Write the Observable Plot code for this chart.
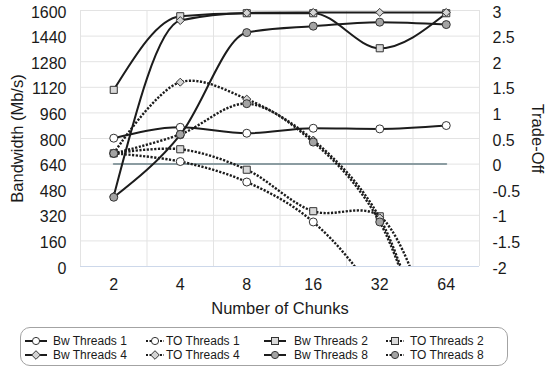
<!DOCTYPE html>
<html><head><meta charset="utf-8">
<script src="https://cdn.jsdelivr.net/npm/d3@7"></script>
<script src="https://cdn.jsdelivr.net/npm/@observablehq/plot@0.6"></script>
<style>
body{margin:0;background:#fff;font-family:"Liberation Sans",Arial,sans-serif;}
#wrap{position:relative;width:550px;height:372px;overflow:hidden;}
#legend{position:absolute;left:20px;top:327px;width:486px;height:37px;border:1px solid #a3a3a3;border-radius:10px;}
.item{position:absolute;font-size:12px;color:#1a1a1a;line-height:14px;white-space:nowrap;}
.item svg{position:absolute;top:0;}
</style></head><body><div id="wrap"></div>
<script>
// ---- data ----
const chunks = [2, 4, 8, 16, 32, 64];
const bwThreads1 = [802, 870, 833, 864, 860, 881];
const bwThreads2 = [1104, 1564, 1583, 1583, 1364, 1583];
const bwThreads4 = [440, 1537, 1585, 1588, 1588, 1588];
const bwThreads8 = [433, 823, 1462, 1502, 1527, 1512];
const toThreads1 = [0.21, 0.05, -0.35, -1.13, -2.7, -5.5];
const toThreads2 = [0.21, 0.29, -0.11, -0.92, -1.02, -4.2];
const toThreads4 = [0.21, 1.6, 1.27, 0.47, -1.05, -5];
const toThreads8 = [0.21, 0.58, 1.18, 0.43, -1.13, -5];
const zeroLine = [0, 0, 0, 0, 0, 0];
const bwTicks = [0, 160, 320, 480, 640, 800, 960, 1120, 1280, 1440, 1600];
const toTicks = [-2, -1.5, -1, -0.5, 0, 0.5, 1, 1.5, 2, 2.5, 3];
const seriesNames = ["Bw Threads 1", "TO Threads 1", "Bw Threads 2", "TO Threads 2",
                     "Bw Threads 4", "TO Threads 4", "Bw Threads 8", "TO Threads 8"];
const seriesValues = [bwThreads1, toThreads1, bwThreads2, toThreads2,
                      bwThreads4, toThreads4, bwThreads8, toThreads8];

// ---- styles ----
const seriesAxis = ["bw", "to", "bw", "to", "bw", "to", "bw", "to"];
const seriesSymbol = ["circle", "circle", "square", "square", "diamond2", "diamond2", "circle", "circle"];
const seriesFill = ["#ffffff", "#ffffff", "#d9d9d9", "#d9d9d9", "#d4d4d4", "#d4d4d4", "#a3a3a3", "#a3a3a3"];
const seriesR = [4, 4, 4, 4, 3.6, 3.6, 4, 4];
const ink = "#1c1c1c";

const bwMax = bwTicks[bwTicks.length - 1];
const toMin = toTicks[0], toMax = toTicks[toTicks.length - 1];
const toToBw = v => (v - toMin) / (toMax - toMin) * bwMax;
const bwToTo = d => Math.round(((d / bwMax) * (toMax - toMin) + toMin) * 10) / 10;

const rows = seriesValues.flatMap((vals, s) => vals.map((v, i) => ({
  s, chunk: chunks[i], value: v,
  y: seriesAxis[s] === "to" ? toToBw(v) : v,
  inRange: seriesAxis[s] === "to" ? v >= toMin : true
})));

const bounds = [chunks[0] / Math.SQRT2, ...chunks.map(c => c * Math.SQRT2)];
const grid = "#e3e3e3";

const marks = [
  Plot.ruleY(bwTicks, {stroke: grid, strokeWidth: 1}),
  Plot.ruleX(bounds, {stroke: grid, strokeWidth: 1}),
  Plot.ruleY([0], {stroke: "#cdd8ea", strokeWidth: 1.2}),
  Plot.line(chunks.map((c, i) => ({chunk: c, v: zeroLine[i]})),
    {x: "chunk", y: d => toToBw(d.v), stroke: "#8b9ca1", strokeWidth: 2})
];
seriesNames.forEach((name, s) => {
  const data = rows.filter(r => r.s === s);
  const dotted = seriesAxis[s] === "to";
  marks.push(Plot.line(data, {
    x: "chunk", y: "y", curve: dotted ? "catmull-rom" : "monotone-x", clip: true,
    stroke: ink, strokeWidth: dotted ? 2.4 : 2, strokeLinecap: "butt",
    strokeDasharray: dotted ? "2.2,1.5" : null
  }));
  marks.push(Plot.dot(data.filter(r => r.inRange), {
    x: "chunk", y: "y", symbol: () => seriesSymbol[s], r: seriesR[s],
    fill: seriesFill[s], stroke: "#333", strokeWidth: 1
  }));
});
marks.push(
  Plot.axisX(chunks, {tickSize: 0, tickPadding: 12, label: null, tickFormat: d => String(d), fontSize: 16}),
  Plot.axisY(bwTicks, {anchor: "left", tickSize: 0, tickPadding: 14, dy: 2, label: null, fontSize: 16, tickFormat: d => String(d)}),
  Plot.axisY(toTicks.map(toToBw), {anchor: "right", tickSize: 0, tickPadding: 13, dy: 2, label: null, fontSize: 16, tickFormat: d => String(bwToTo(d))}),
  Plot.text(["Bandwidth (Mb/s)"], {text: d => d, frameAnchor: "left", textAnchor: "middle", lineAnchor: "middle", dx: -63, rotate: -90, fontSize: 16.5}),
  Plot.text(["Trade-Off"], {text: d => d, frameAnchor: "right", textAnchor: "middle", lineAnchor: "middle", dx: 58, rotate: 90, fontSize: 16.5}),
  Plot.text(["Number of Chunks"], {text: d => d, frameAnchor: "bottom", textAnchor: "middle", lineAnchor: "middle", dy: 42, fontSize: 16.5})
);

const chart = Plot.plot({
  width: 550, height: 320,
  marginLeft: 80, marginRight: 71, marginTop: 10, marginBottom: 54,
  x: {type: "log", base: 2, domain: [bounds[0], bounds[bounds.length - 1]]},
  y: {domain: [0, bwMax]},
  style: {fontFamily: "'Liberation Sans', Arial, sans-serif", fontSize: "16px", color: "#1a1a1a", background: "#fff", overflow: "visible"},
  marks
});
const wrap = document.getElementById("wrap");
wrap.appendChild(chart);

// ---- legend ----
const legend = document.createElement("div");
legend.id = "legend";
wrap.appendChild(legend);
const colLeft = [3, 122, 242, 362];
const textLeft = [32, 145, 273, 389];
const rowTop = [6, 20];
function symbolSvg(s) {
  const dotted = seriesAxis[s] === "to";
  const w = 24, h = 14, cy = 7, cx = 12;
  let shape;
  if (seriesSymbol[s] === "circle") shape = `<circle cx="${cx}" cy="${cy}" r="3.6" fill="${seriesFill[s]}" stroke="#333" stroke-width="1"/>`;
  else if (seriesSymbol[s] === "square") shape = `<rect x="${cx-3.5}" y="${cy-3.5}" width="7" height="7" fill="${seriesFill[s]}" stroke="#333" stroke-width="1"/>`;
  else shape = `<path d="M${cx},${cy-4.3}L${cx+4.3},${cy}L${cx},${cy+4.3}L${cx-4.3},${cy}Z" fill="${seriesFill[s]}" stroke="#333" stroke-width="1"/>`;
  const line = dotted
    ? `<line x1="3" x2="21" y1="${cy}" y2="${cy}" stroke="${ink}" stroke-width="2.2" stroke-dasharray="2,1.5"/>`
    : `<line x1="1" x2="23" y1="${cy}" y2="${cy}" stroke="${ink}" stroke-width="2"/>`;
  return `<svg width="${w}" height="${h}" viewBox="0 0 ${w} ${h}">${line}${shape}</svg>`;
}
seriesNames.forEach((name, s) => {
  const col = s % 4, row = Math.floor(s / 4);
  const sym = document.createElement("div");
  sym.className = "item";
  sym.style.left = colLeft[col] + "px";
  sym.style.top = rowTop[row] + "px";
  sym.innerHTML = symbolSvg(s);
  legend.appendChild(sym);
  const t = document.createElement("div");
  t.className = "item";
  t.style.left = textLeft[col] + "px";
  t.style.top = rowTop[row] + "px";
  t.textContent = name;
  legend.appendChild(t);
});
</script>
</body></html>
